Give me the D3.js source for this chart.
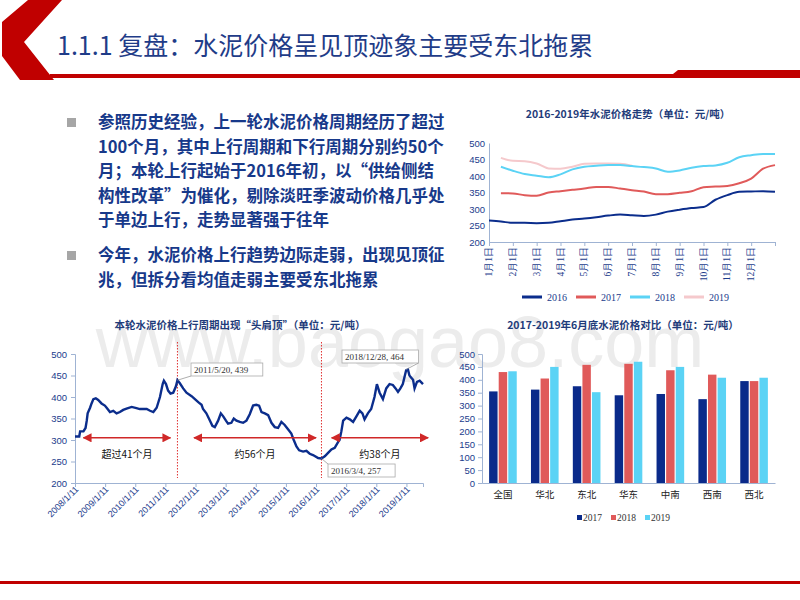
<!DOCTYPE html>
<html><head><meta charset="utf-8">
<script src="https://cdn.jsdelivr.net/npm/d3@7"></script>
<style>body{margin:0;background:#fff}svg{display:block;font-family:"Noto Sans CJK SC","Liberation Sans",sans-serif}</style>
</head><body><svg id="c" width="800" height="600"></svg>
<script>
// ---- data ----
const bullet1 = ["参照历史经验，上一轮水泥价格周期经历了超过","100个月，其中上行周期和下行周期分别约50个","月；本轮上行起始于2016年初，以“供给侧结","构性改革”为催化，剔除淡旺季波动价格几乎处","于单边上行，走势显著强于往年"];
const bullet2 = ["今年，水泥价格上行趋势边际走弱，出现见顶征","兆，但拆分看均值走弱主要受东北拖累"];
const monthLabels = ["1月1日","2月1日","3月1日","4月1日","5月1日","6月1日","7月1日","8月1日","9月1日","10月1日","11月1日","12月1日"];
const monthPos = [0,0.5,1,1.5,2,2.5,3,3.5,4,4.5,5,5.5,6,6.5,7,7.5,8,8.5,9,9.5,10,10.5,11,11.5,12];
const s2016 = [265,262,258,258,257,258,263,268,271,275,280,283,281,279,283,292,298,303,306,328,342,352,353,354,352];
const s2017 = [null,348,347,342,340,350,354,358,362,367,367,362,357,353,345,345,349,354,366,368,370,378,392,422,433];
const s2018 = [null,428,416,406,401,396,405,420,428,431,433,433,430,427,423,413,417,425,430,432,440,457,463,467,467];
const s2019 = [null,455,446,445,438,423,422,428,437,438,438,437,431];
const yearTicks = [2008,2009,2010,2011,2012,2013,2014,2015,2016,2017,2018,2019];
const histYear = [2008.00,2008.14,2008.17,2008.28,2008.35,2008.39,2008.42,2008.50,2008.55,2008.61,2008.69,2008.77,2008.88,2008.99,2009.05,2009.16,2009.27,2009.38,2009.49,2009.60,2009.71,2009.88,2010.04,2010.15,2010.27,2010.38,2010.49,2010.60,2010.71,2010.82,2010.91,2010.95,2011.02,2011.09,2011.17,2011.26,2011.35,2011.40,2011.48,2011.59,2011.70,2011.87,2011.98,2012.09,2012.20,2012.25,2012.36,2012.48,2012.56,2012.64,2012.75,2012.84,2012.92,2013.01,2013.08,2013.19,2013.27,2013.36,2013.47,2013.58,2013.69,2013.80,2013.91,2014.02,2014.11,2014.19,2014.30,2014.41,2014.52,2014.63,2014.74,2014.85,2014.96,2015.07,2015.18,2015.26,2015.35,2015.44,2015.57,2015.68,2015.79,2015.90,2016.07,2016.18,2016.29,2016.40,2016.51,2016.62,2016.73,2016.78,2016.84,2016.90,2017.01,2017.12,2017.23,2017.34,2017.45,2017.54,2017.61,2017.72,2017.83,2017.94,2018.02,2018.11,2018.22,2018.33,2018.44,2018.55,2018.64,2018.72,2018.80,2018.88,2018.99,2019.05,2019.10,2019.16,2019.22,2019.27,2019.35,2019.44,2019.55];
const histVal = [308,308,320,320,328,345,362,375,385,395,397,393,385,380,375,365,368,362,365,370,373,377,374,372,372,372,368,365,375,400,430,438,430,415,408,410,425,439,432,420,410,402,395,388,382,372,362,345,333,330,345,362,355,345,338,340,350,345,342,340,345,360,380,382,380,365,362,358,340,330,328,342,335,325,315,300,285,276,273,275,268,265,258,257,262,270,278,282,295,300,320,345,352,348,342,355,368,362,348,362,372,400,430,410,395,420,430,428,420,412,420,430,462,464,450,445,440,420,435,438,430];
const regions = ["全国","华北","东北","华东","中南","西南","西北"];
const b2017 = [355,362,375,340,345,325,395];
const b2018 = [430,405,458,462,437,420,395];
const b2019 = [433,450,352,470,450,408,408];

const NAVY="#0B2D8C", RED="#E05A5A", CYAN="#5BD3F5", PINK="#F5C9CC", TXT="#1B3C8C", AX="#9FB3D3";
const svg = d3.select("#c");

// ---- header ----
svg.append("text").attr("x",400).attr("y",367).attr("text-anchor","middle").attr("font-size",72)
  .attr("font-family","Liberation Sans").attr("fill","#ececec").text("www.baogao8.com");
svg.append("polygon").attr("points","28,0 62,0 24,42 54,80 20,80 2,56 2,22").attr("fill","#C00000");
svg.append("rect").attr("x",50).attr("y",74).attr("width",750).attr("height",4).attr("fill","#C00000");
svg.append("polygon").attr("points","678,70 800,70 800,78 668,78").attr("fill","#C00000");
svg.append("rect").attr("x",0).attr("y",581).attr("width",800).attr("height",3).attr("fill","#C00000");
svg.append("text").attr("x",57).attr("y",55).attr("font-size",25).attr("fill","#1F3C88")
  .attr("font-family","Noto Sans CJK SC").text("1.1.1 复盘：水泥价格呈见顶迹象主要受东北拖累");

// ---- bullets ----
[[bullet1,128],[bullet2,261]].forEach(([lines,y0])=>{
  svg.append("rect").attr("x",67).attr("y",y0-10).attr("width",9).attr("height",9).attr("fill","#A6A6A6");
  lines.forEach((t,i)=>svg.append("text").attr("x",98).attr("y",y0+i*24.6).attr("font-size",16.5)
    .attr("font-weight","bold").attr("fill","#17398A").text(t));
});

function styleAxis(g){g.selectAll("path,line").attr("stroke",AX);g.selectAll("text").attr("fill",TXT).attr("font-family","Liberation Sans");}

// ---- chart 1: 2016-2019 ----
{
  const x = d3.scaleLinear().domain([0,12]).range([489,775]);
  const y = d3.scaleLinear().domain([200,500]).range([242,143]);
  svg.append("text").attr("x",628).attr("y",118).attr("text-anchor","middle").attr("font-size",10.5)
    .attr("font-weight","bold").attr("fill","#1F3C7A").text("2016-2019年水泥价格走势（单位：元/吨）");
  const ya = svg.append("g").attr("transform","translate(489,0)").call(d3.axisLeft(y).tickValues(d3.range(200,501,50)).tickSize(0).tickPadding(4));
  ya.selectAll("text").attr("font-size",9.5); styleAxis(ya);
  const xa = svg.append("g").attr("transform","translate(0,242)").call(d3.axisBottom(x).tickValues(d3.range(0,13)).tickSize(4).tickFormat(""));
  styleAxis(xa);
  monthLabels.forEach((m,i)=>svg.append("text").attr("transform",`translate(${x(i)+3},247) rotate(-90)`)
    .attr("text-anchor","end").attr("font-size",9.5).attr("font-family","Liberation Serif").attr("fill",TXT).text(m));
  const series=[[s2016,NAVY,"2016"],[s2017,RED,"2017"],[s2018,CYAN,"2018"],[s2019,PINK,"2019"]];
  const line=d3.line().defined(d=>d[1]!=null).x(d=>x(d[0])).y(d=>y(d[1])).curve(d3.curveMonotoneX);
  series.slice().reverse().forEach(([s,c])=>svg.append("path").attr("d",line(s.map((v,i)=>[monthPos[i],v])))
    .attr("fill","none").attr("stroke",c).attr("stroke-width",2));
  series.forEach(([s,c,n],i)=>{const lx=522+i*54;
    svg.append("line").attr("x1",lx).attr("x2",lx+20).attr("y1",297).attr("y2",297).attr("stroke",c).attr("stroke-width",3);
    svg.append("text").attr("x",lx+25).attr("y",301).attr("font-size",10).attr("font-family","Liberation Serif").attr("fill",TXT).text(n);});
}

// ---- chart 2: history ----
{
  const x = d3.scaleLinear().domain([2008,2019.55]).range([75,423]);
  const y = d3.scaleLinear().domain([200,500]).range([483,354]);
  svg.append("text").attr("x",240).attr("y",329).attr("text-anchor","middle").attr("font-size",10.5)
    .attr("font-weight","bold").attr("fill","#1F3C7A").text("本轮水泥价格上行周期出现“头肩顶”（单位：元/吨）");
  const ya = svg.append("g").attr("transform","translate(75,0)").call(d3.axisLeft(y).tickValues(d3.range(200,501,50)).tickSize(4).tickPadding(4));
  ya.selectAll("text").attr("font-size",9.5); styleAxis(ya);
  const xa = svg.append("g").attr("transform","translate(0,483)").call(d3.axisBottom(x).tickValues(yearTicks).tickSize(4).tickFormat(""));
  styleAxis(xa);
  yearTicks.forEach(yr=>svg.append("text").attr("transform",`translate(${x(yr)+4},490) rotate(-45)`)
    .attr("text-anchor","end").attr("font-size",9).attr("font-family","Liberation Sans").attr("fill",TXT).text(yr+"/1/11"));
  [2011.40,2016.18].forEach(v=>svg.append("line").attr("x1",x(v)).attr("x2",x(v)).attr("y1",342).attr("y2",478)
    .attr("stroke","#E03030").attr("stroke-width",1).attr("stroke-dasharray","1.5,1.5"));
  svg.append("path").attr("d",d3.line().x((d,i)=>x(histYear[i])).y(d=>y(d))(histVal))
    .attr("fill","none").attr("stroke","#0B2D8C").attr("stroke-width",2.4);
  const defs=svg.append("defs");
  defs.append("marker").attr("id","ah").attr("viewBox","0 0 10 10").attr("refX",9).attr("refY",5).attr("markerWidth",6).attr("markerHeight",6).attr("orient","auto-start-reverse")
    .append("path").attr("d","M0,0L10,5L0,10z").attr("fill","#D02828");
  [[2008.28,2011.17,"超过41个月"],[2011.95,2016.0,"约56个月"],[2016.52,2019.72,"约38个月"]].forEach(([a,b,t])=>{
    svg.append("line").attr("x1",x(a)).attr("x2",x(b)).attr("y1",y(305)).attr("y2",y(305)).attr("stroke","#D02828").attr("stroke-width",1.5)
      .attr("marker-start","url(#ah)").attr("marker-end","url(#ah)");
    svg.append("text").attr("x",(x(a)+x(b))/2).attr("y",458).attr("text-anchor","middle").attr("font-size",10).attr("fill","#111").text(t);});
  const ann=[[2011.40,439,191,363,"2011/5/20, 439"],[2018.99,464,342,350,"2018/12/28, 464"],[2016.18,257,328,464,"2016/3/4, 257"]];
  ann.forEach(([px,pv,bx,by,t])=>{
    const w=t.length*4.7+6;
    svg.append("line").attr("x1",x(px)).attr("y1",y(pv)).attr("x2",bx<x(px)?bx+w:bx).attr("y2",by+ (by>y(pv)?0:13)).attr("stroke","#999").attr("stroke-width",0.8);
    svg.append("rect").attr("x",bx).attr("y",by).attr("width",w).attr("height",13).attr("fill","#fff").attr("stroke","#aaa").attr("stroke-width",0.8);
    svg.append("text").attr("x",bx+3).attr("y",by+10).attr("font-size",9).attr("font-family","Liberation Serif").attr("fill","#333").text(t);});
}

// ---- chart 3: bars ----
{
  const x = d3.scaleBand().domain(regions).range([482,775]);
  const xi = d3.scaleBand().domain([0,1,2]).range([0,x.bandwidth()*0.66]).paddingInner(0.12);
  const y = d3.scaleLinear().domain([0,500]).range([483,354]);
  svg.append("text").attr("x",623).attr("y",329).attr("text-anchor","middle").attr("font-size",10.5)
    .attr("font-weight","bold").attr("fill","#1F3C7A").text("2017-2019年6月底水泥价格对比（单位：元/吨）");
  const ya = svg.append("g").attr("transform","translate(482,0)").call(d3.axisLeft(y).tickValues(d3.range(0,501,50)).tickSize(4).tickPadding(3));
  ya.selectAll("text").attr("font-size",9.5); styleAxis(ya);
  const xa = svg.append("g").attr("transform","translate(0,483)").call(d3.axisBottom(x).tickSize(0).tickPadding(8));
  styleAxis(xa); xa.selectAll("text").attr("font-family","Noto Sans CJK SC").attr("font-size",9.5).attr("fill","#222");
  const sets=[[b2017,"#0A2A8A"],[b2018,RED],[b2019,CYAN]];
  sets.forEach(([vals,c],k)=>svg.append("g").selectAll("rect").data(regions).join("rect")
    .attr("x",r=>x(r)+x.bandwidth()*0.17+xi(k)).attr("width",xi.bandwidth())
    .attr("y",(r,i)=>y(vals[i])).attr("height",(r,i)=>y(0)-y(vals[i])).attr("fill",c));
  ["2017","2018","2019"].forEach((n,k)=>{const lx=577+k*34;
    svg.append("rect").attr("x",lx).attr("y",515).attr("width",5).attr("height",5).attr("fill",sets[k][1]);
    svg.append("text").attr("x",lx+6).attr("y",521).attr("font-size",9.5).attr("font-family","Liberation Serif").attr("fill","#333").text(n);});
}
</script></body></html>
